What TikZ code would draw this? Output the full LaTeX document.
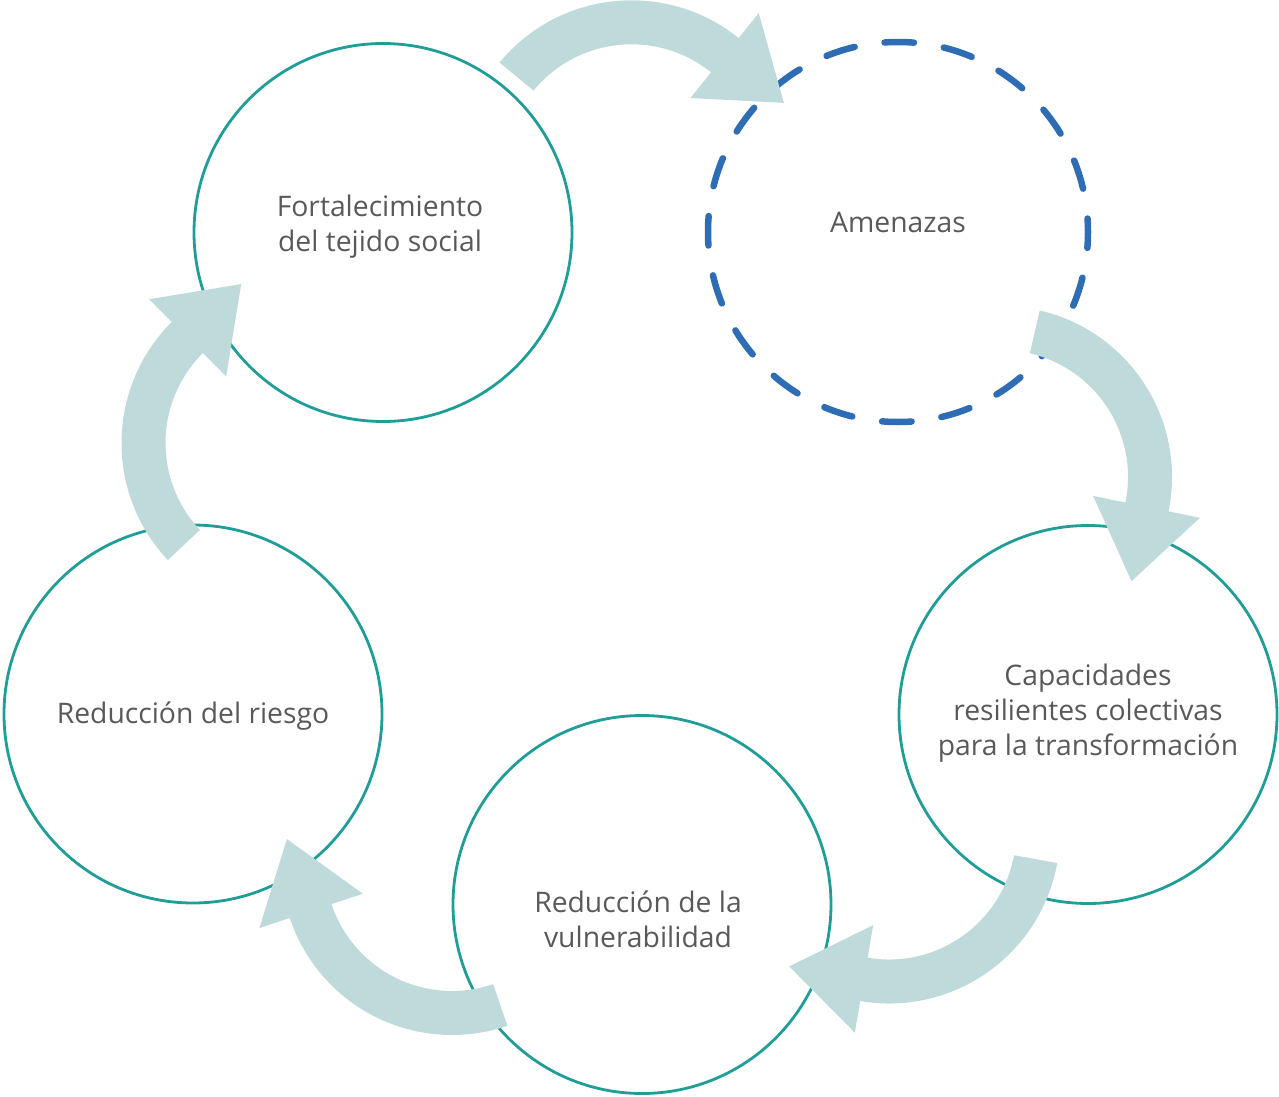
\documentclass[tikz,border=0pt]{standalone}
\usepackage{fontspec}
\setmainfont{Open Sans}
\usetikzlibrary{calc}
\definecolor{arrowfill}{HTML}{BFDADB}
\definecolor{ringteal}{HTML}{1F9D96}
\definecolor{ringblue}{HTML}{2E6DB4}
\definecolor{labelgray}{HTML}{595959}
\newcommand\cyclearrow[3]{%
  \fill[arrowfill] ($(#1)+(#2:171pt)$) arc[start angle=#2, end angle=#3, radius=171pt]
    -- ($(#1)+(#3:203pt)$) -- ($(#1)+({#3-27}:167pt)$) -- ($(#1)+(#3:94pt)$)
    -- ($(#1)+(#3:127pt)$) arc[start angle=#3, end angle=#2, radius=127pt] -- cycle;}
\begin{document}
\begin{tikzpicture}[x=1pt,y=1pt,
  ring/.style={circle, draw=ringteal, line width=2.8pt, minimum size=378pt, inner sep=0pt},
  threat/.style={circle, draw=ringblue, line width=6.5pt, dash pattern=on 29.5pt off 30.2pt, dash phase=16pt, line cap=round, minimum size=380pt, inner sep=0pt},
  lbl/.style={text=labelgray, align=center, font=\fontsize{28.3}{35}\selectfont, inner sep=0pt}]
\useasboundingbox (0,0) rectangle (1279,-1097);
% circles
\node[ring] (fort) at (383,-232.5) {};
\node[threat] (amen) at (898,-232) {};
\node[ring] (capa) at (1088,-714.5) {};
\node[ring] (vuln) at (642,-904.5) {};
\node[ring] (ries) at (193,-714) {};
% arrow centres
\coordinate (a1) at (631.5,-171.3);
\coordinate (a2) at (1001,-477);
\coordinate (a3) at (889,-832.5);
\coordinate (a4) at (452,-864);
\coordinate (a5) at (292.5,-443);
\cyclearrow{a1}{140.5}{51.2}
\cyclearrow{a2}{76.9}{-11.6}
\cyclearrow{a3}{-10.3}{-99.7}
\cyclearrow{a4}{288.9}{198.4}
\cyclearrow{a5}{223.2}{134.9}
% labels
\node[lbl] (tfort) at (380,-227) {Fortalecimiento\\del tejido social};
\node[lbl] (tamen) at (898,-222) {Amenazas};
\node[lbl] (tcapa) at (1088,-713) {Capacidades\\resilientes colectivas\\para la transformación};
\node[lbl] (tries) at (193,-716) {Reducción del riesgo};
\node[lbl] (tvuln) at (638,-919) {Reducción de la\\vulnerabilidad};
\end{tikzpicture}
\end{document}
